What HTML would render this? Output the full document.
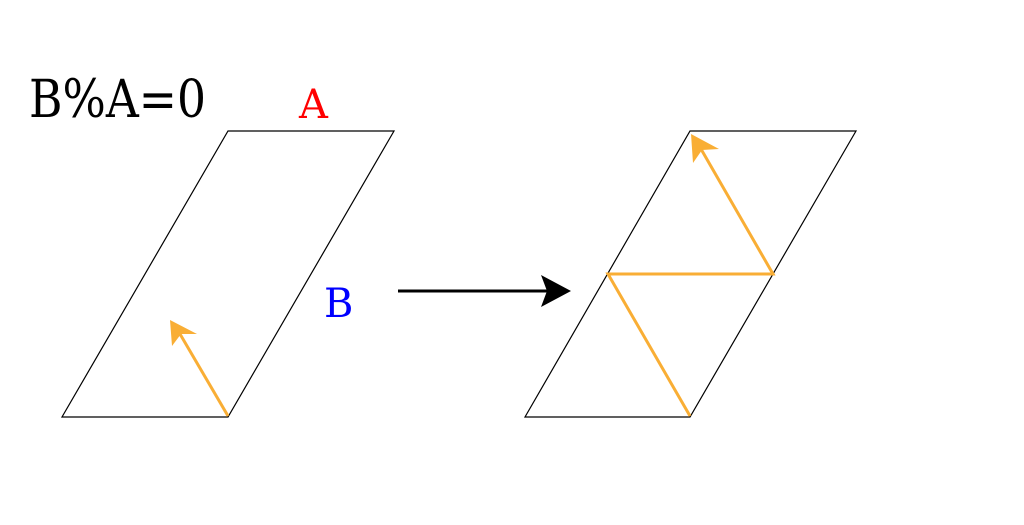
<!DOCTYPE html>
<html><head><meta charset="utf-8"><style>
html,body{margin:0;padding:0;background:#fff;}
svg{display:block;}
text{font-family:"DejaVu Serif","Liberation Serif",serif;}
</style></head><body>
<svg width="1024" height="525" viewBox="0 0 1024 525" xmlns="http://www.w3.org/2000/svg">
<rect width="1024" height="525" fill="#fff"/>
<polygon points="62,417 228,417 394,131 228,131" fill="none" stroke="#000" stroke-width="1.2"/>
<polygon points="525,417 690,417 856,131 690,131" fill="none" stroke="#000" stroke-width="1.2"/>
<g stroke="#F9AE35" stroke-width="3" fill="none">
<line x1="228" y1="416" x2="180" y2="334"/>
<polyline points="690,416 608,274 773,274 701,149"/>
</g>
<g fill="#F9AE35">
<polygon points="170,320 172,346 181,334 197,334"/>
<polygon points="691,134 693,163 702,150 719,149"/>
</g>
<line x1="398" y1="291" x2="550" y2="291" stroke="#000" stroke-width="3"/>
<polygon points="571,291 541,275 547,291 541,307" fill="#000"/>
<text x="29" y="117" font-size="52" fill="#000" textLength="177" lengthAdjust="spacingAndGlyphs">B%A=0</text>
<text x="299" y="118" font-size="40" fill="#f00">A</text>
<text x="324" y="317" font-size="40" fill="#00f">B</text>
</svg>
</body></html>
